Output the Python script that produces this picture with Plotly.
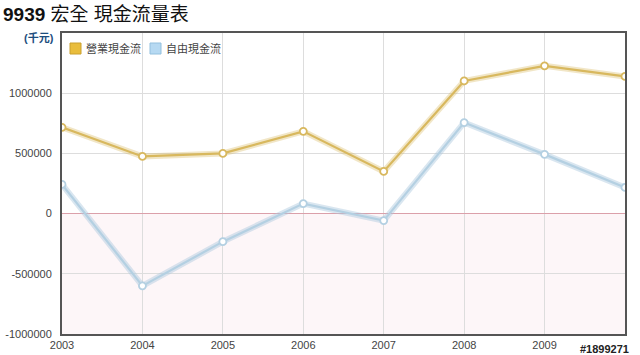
import plotly.graph_objects as go

years = [2003, 2004, 2005, 2006, 2007, 2008, 2009, 2010]
operating_cf = [716000, 475000, 500000, 683000, 350000, 1102000, 1227000, 1139000]
free_cf = [242000, -600000, -233000, 83000, -58000, 756000, 492000, 217000]
y_ticks = [-1000000, -500000, 0, 500000, 1000000]
x_labels = ["2003", "2004", "2005", "2006", "2007", "2008", "2009", ""]
series_names = ["營業現金流", "自由現金流"]

FONT = "Liberation Sans, Arial, Noto Sans CJK TC, sans-serif"

fig = go.Figure()

def add_series(yvals, name, color, shadow):
    fig.add_trace(go.Scatter(x=years, y=yvals, mode="lines", line=dict(color=shadow, width=6),
                             hoverinfo="skip", showlegend=False))
    fig.add_trace(go.Scatter(x=years, y=yvals, mode="lines+markers", name=name,
                             line=dict(color=color, width=2.2),
                             marker=dict(size=7, color="white", line=dict(color=color, width=1.8)),
                             showlegend=False))

add_series(operating_cf, series_names[0], "#d8b85e", "rgba(216,184,94,0.35)")
add_series(free_cf, series_names[1], "#b4d0e2", "rgba(170,200,222,0.45)")

# negative-region shading
fig.add_shape(type="rect", xref="paper", yref="y", x0=0, x1=1, y0=-1000000, y1=0,
              fillcolor="#fdf6f8", line=dict(width=0), layer="below")

fig.update_layout(
    width=640, height=355,
    margin=dict(l=62, r=15, t=33, b=21, autoexpand=False),
    paper_bgcolor="white", plot_bgcolor="white",
    font=dict(family=FONT, size=11, color="#444"),
    showlegend=False,
    xaxis=dict(range=[2003, 2010], tickvals=years, ticktext=x_labels, automargin=False,
               showgrid=True, gridcolor="#dddddd", gridwidth=1,
               showline=True, linecolor="#555", linewidth=2, mirror=True,
               zeroline=False, ticks="", tickfont=dict(size=11, color="#444")),
    yaxis=dict(range=[-1000000, 1500000], tickvals=y_ticks, automargin=False,
               ticktext=[str(v) for v in y_ticks],
               showgrid=True, gridcolor="#dddddd", gridwidth=1,
               showline=True, linecolor="#555", linewidth=2, mirror=True,
               zeroline=True, zerolinecolor="#dba0aa", zerolinewidth=1,
               ticks="", ticklabelstandoff=6, tickfont=dict(size=11, color="#444")),
)

# title
fig.add_annotation(xref="paper", yref="paper", x=0, y=1, xanchor="left", yanchor="bottom",
                   xshift=-61, yshift=6,
                   text="<b>9939</b> 宏全 現金流量表", showarrow=False,
                   font=dict(family=FONT, size=19, color="#111"))
# unit
fig.add_annotation(xref="paper", yref="paper", x=0, y=1, xanchor="right", yanchor="middle",
                   xshift=-6, yshift=-4,
                   text="<b>(千元)</b>", showarrow=False,
                   font=dict(family=FONT, size=11, color="#1d4e7e"))

# legend (manual)
legend_items = [(series_names[0], "#e9bd3c", "#caa02e"), (series_names[1], "#b6d9f2", "#93c0de")]
xpos = 8
for name, fillc, edge in legend_items:
    fig.add_shape(type="rect", xref="paper", yref="paper", xsizemode="pixel", ysizemode="pixel",
                  xanchor=0, yanchor=1, x0=xpos, x1=xpos + 11, y0=-10, y1=-21,
                  fillcolor=fillc, line=dict(color=edge, width=1))
    fig.add_annotation(xref="paper", yref="paper", x=0, y=1, xanchor="left", yanchor="middle",
                       xshift=xpos + 14, yshift=-15, text=name, showarrow=False,
                       font=dict(family=FONT, size=11, color="#444"))
    xpos += 80

# watermark
fig.add_annotation(xref="paper", yref="paper", x=1, y=0, xanchor="right", yanchor="top",
                   xshift=6, yshift=-7, text="<b>#1899271</b>", showarrow=False,
                   font=dict(family=FONT, size=11, color="#222"))

fig.write_html("out.html", config={"displayModeBar": False},
               post_script="document.body.style.margin='0';document.body.style.padding='0';")
